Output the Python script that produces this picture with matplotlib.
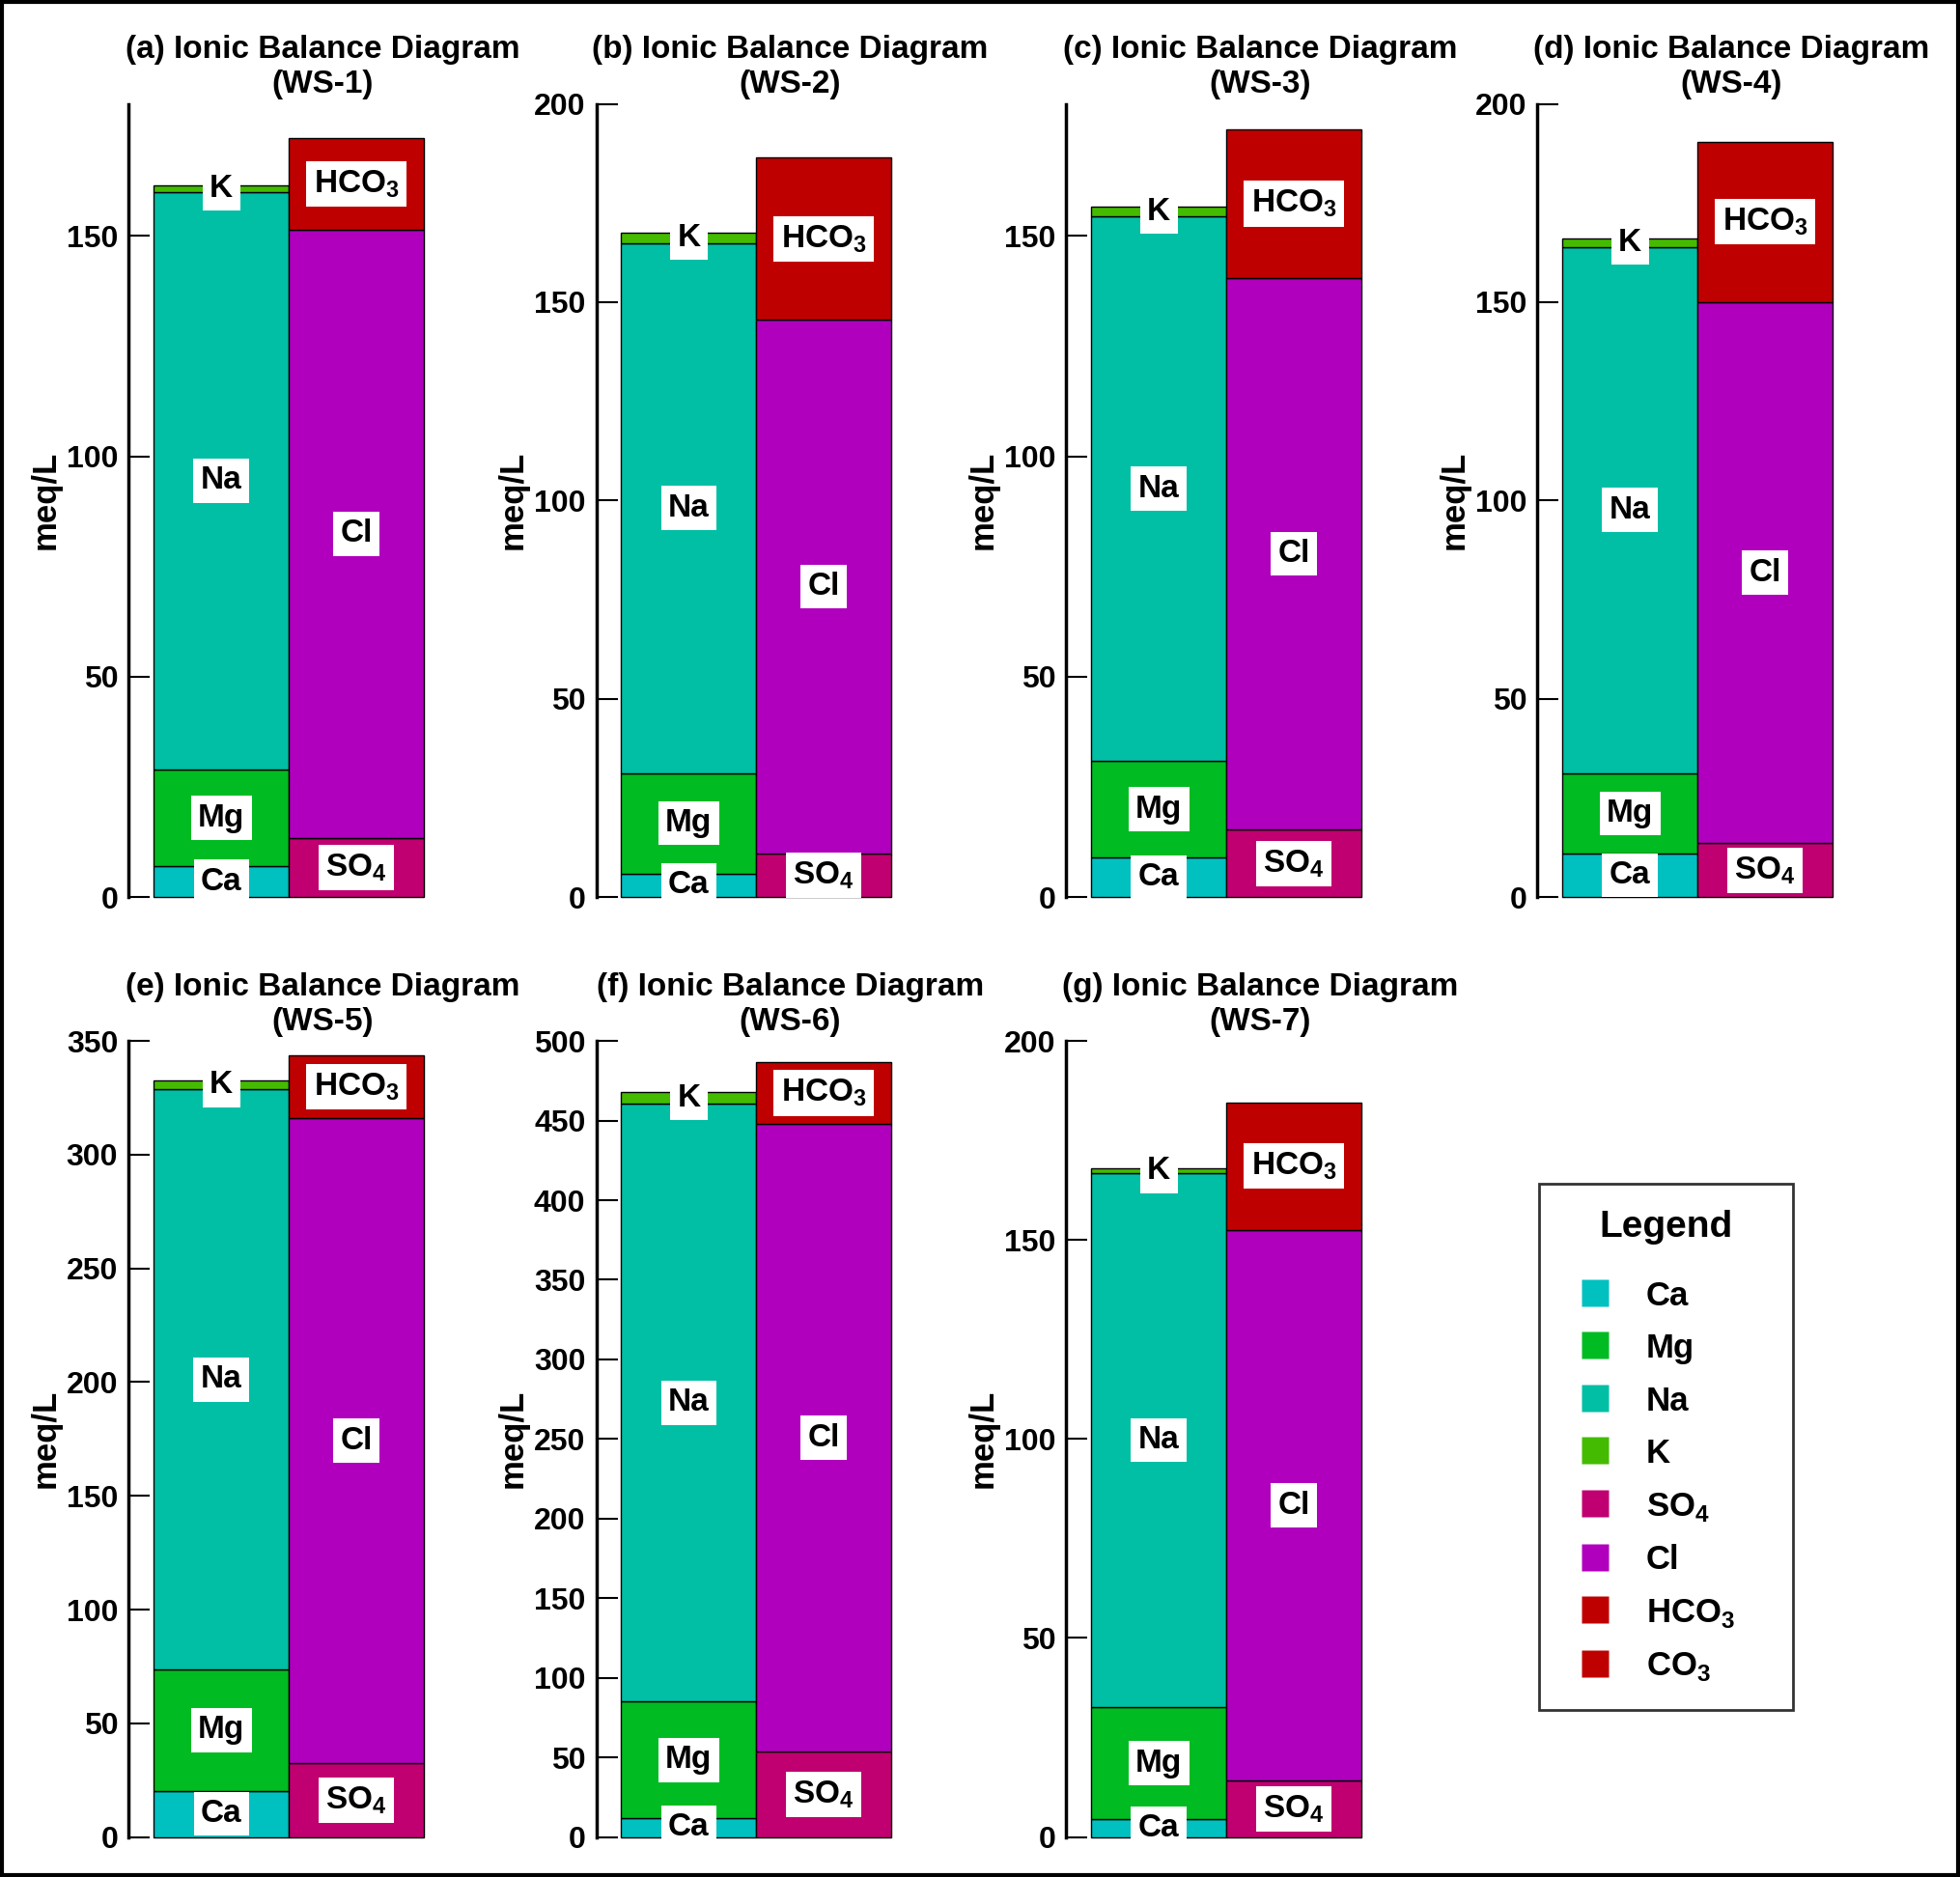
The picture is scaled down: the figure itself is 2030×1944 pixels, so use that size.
import matplotlib
matplotlib.use('Agg')
import matplotlib.pyplot as plt
from matplotlib.patches import Rectangle
from matplotlib.lines import Line2D

plt.rcParams['font.family'] = ['Liberation Sans', 'DejaVu Sans']
plt.rcParams['font.weight'] = 'bold'
plt.rcParams['mathtext.fontset'] = 'custom'
plt.rcParams['mathtext.rm'] = 'Liberation Sans:bold'
plt.rcParams['mathtext.bf'] = 'Liberation Sans:bold'

# data (meq/L)
sites = ['WS-1', 'WS-2', 'WS-3', 'WS-4', 'WS-5', 'WS-6', 'WS-7']
tags = ['a', 'b', 'c', 'd', 'e', 'f', 'g']
ca = [7.0, 6.0, 9.0, 11.0, 20.4, 11.8, 4.4]
mg = [22.0, 25.3, 21.9, 20.3, 53.1, 73.2, 28.3]
na = [131.0, 133.6, 123.5, 132.6, 255.2, 375.6, 134.0]
k = [1.6, 2.5, 2.3, 2.2, 3.9, 7.1, 1.3]
so4 = [13.5, 11.0, 15.3, 13.6, 32.6, 53.5, 14.1]
cl = [137.9, 134.6, 125.2, 136.4, 283.4, 394.5, 138.5]
hco3 = [20.9, 40.8, 33.7, 40.5, 27.6, 38.6, 32.0]
co3 = [0, 0, 0, 0, 0, 0, 0]
ymax = [180, 200, 180, 200, 350, 500, 200]

colors = {'Ca': '#00c0c0', 'Mg': '#00bb22', 'Na': '#00bfa5', 'K': '#44bb00',
          'SO4': '#c00070', 'Cl': '#b000be', 'HCO3': '#bf0000', 'CO3': '#bf0000'}
labels = {'Ca': 'Ca', 'Mg': 'Mg', 'Na': 'Na', 'K': 'K',
          'SO4': r'SO$_{\mathbf{4}}$', 'Cl': 'Cl',
          'HCO3': r'HCO$_{\mathbf{3}}$', 'CO3': r'CO$_{\mathbf{3}}$'}

fig = plt.figure(figsize=(20.3, 19.44), dpi=100)

lefts = [0.0657, 0.3042, 0.5440, 0.7844]
w = 0.1977
row_boxes = [(0.522, 0.4227), (0.0213, 0.4241)]

for i in range(7):
    r, c = divmod(i, 4)
    bottom, h = row_boxes[r]
    ax = fig.add_axes([lefts[c], bottom, w, h])

    for x, ions, vals in [(0, ['Ca', 'Mg', 'Na', 'K'], [ca[i], mg[i], na[i], k[i]]),
                          (1, ['SO4', 'Cl', 'HCO3', 'CO3'], [so4[i], cl[i], hco3[i], co3[i]])]:
        base = 0
        for ion, v in zip(ions, vals):
            if v <= 0:
                continue
            ax.bar(x, v, bottom=base, width=1.0, color=colors[ion],
                   edgecolor='black', linewidth=1.0, clip_on=False)
            ax.text(x, base + v / 2, labels[ion], ha='center', va='center',
                    fontsize=24, fontweight='bold',
                    bbox=dict(boxstyle='square,pad=0.22', fc='white', ec='none'))
            base += v

    ax.set_xlim(-0.685, 2.185)
    ax.set_ylim(0, ymax[i])
    ax.set_yticks(range(0, ymax[i] + 1, 50))
    ax.set_xticks([])
    for s in ['top', 'right', 'bottom']:
        ax.spines[s].set_visible(False)
    ax.spines['left'].set_linewidth(2.5)
    ax.tick_params(axis='y', direction='in', length=16, width=1.5,
                   labelsize=23, pad=8)
    for t in ax.get_yticklabels():
        t.set_fontweight('bold')
    ax.set_ylabel('meq/L', fontsize=25, fontweight='bold', labelpad=4)
    ax.set_title(f'({tags[i]}) Ionic Balance Diagram\n({sites[i]})',
                 fontsize=24, fontweight='bold', pad=8, linespacing=1.22)
    ax.patch.set_visible(False)

handles = [Line2D([], [], ls='none', marker='s', markersize=20,
                  markerfacecolor=colors[key], markeredgecolor='none') for key in colors]
leg = fig.legend(handles, [labels[key] for key in colors], title='Legend',
                 loc='upper left', bbox_to_anchor=(0.785, 0.0939, 0.130, 0.2756),
                 mode='expand', frameon=True, fancybox=False, edgecolor='black',
                 prop={'size': 25, 'weight': 'bold'},
                 title_fontproperties={'size': 28, 'weight': 'bold'},
                 handlelength=1.75, handleheight=0.8, handletextpad=0.66,
                 labelspacing=0.62, borderpad=0.8, borderaxespad=0)
leg.get_frame().set_linewidth(2)
leg._legend_box.sep = 26  # extra room under the title, as in the original

fig.add_artist(Rectangle((0.001, 0.001), 0.998, 0.998, transform=fig.transFigure,
                         fill=False, lw=3, ec='black'))

fig.savefig('out.png', dpi=100)
